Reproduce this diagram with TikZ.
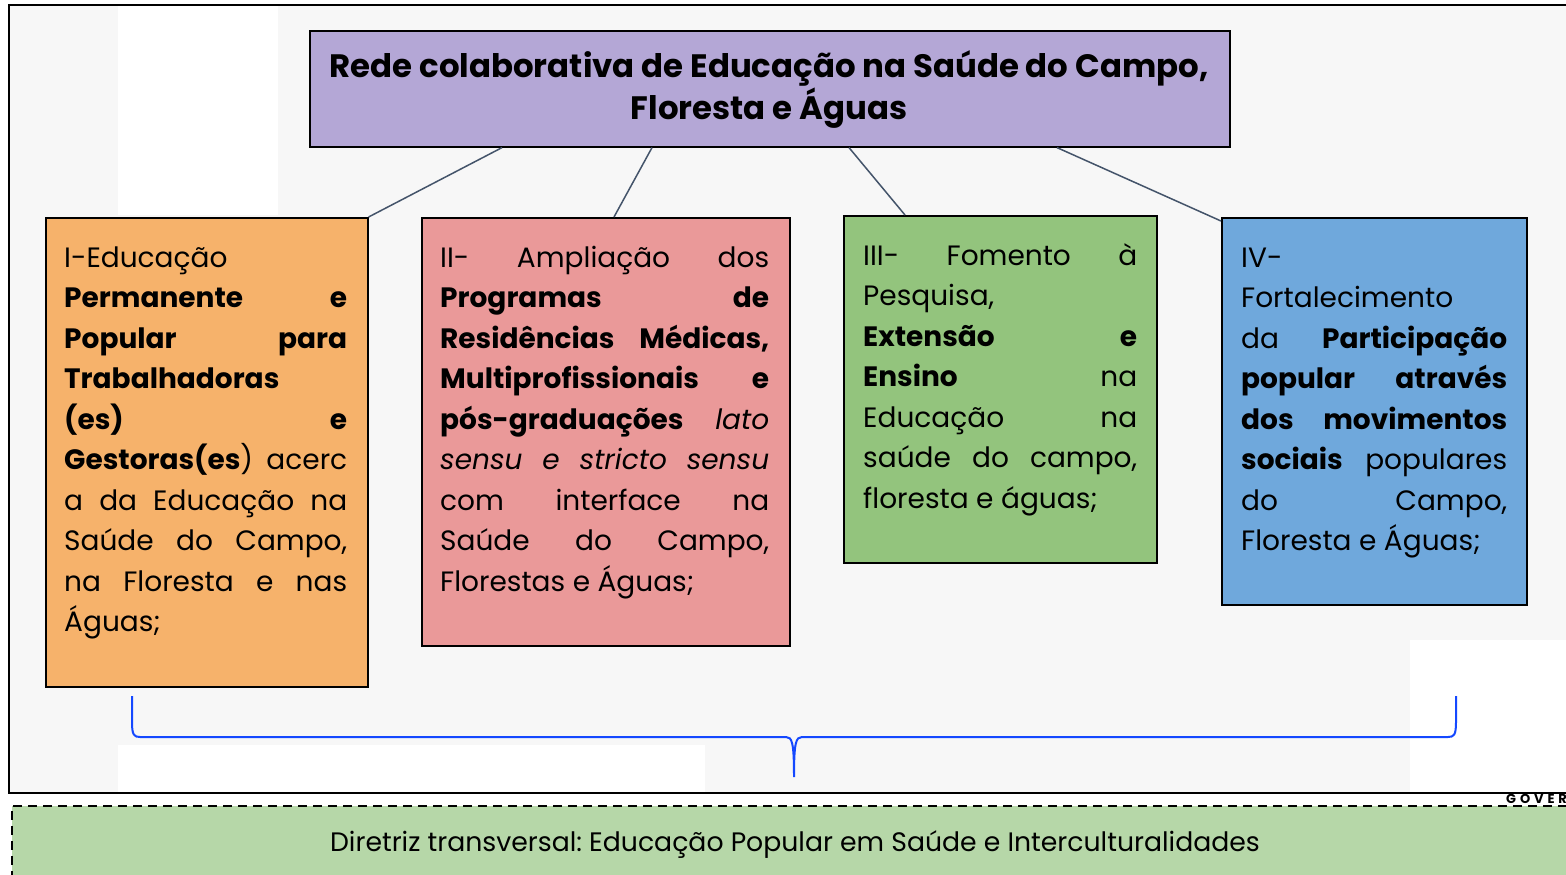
\documentclass[tikz,border=0pt]{standalone}
\usepackage{fontspec}
\setmainfont{Poppins}
\frenchspacing
\definecolor{bgg}{HTML}{F7F7F7}
\definecolor{titlec}{HTML}{B4A7D6}
\definecolor{orangec}{HTML}{F6B26B}
\definecolor{redc}{HTML}{EA9999}
\definecolor{greenc}{HTML}{93C47D}
\definecolor{bluec}{HTML}{6FA8DC}
\definecolor{bottomc}{HTML}{B6D7A8}
\definecolor{linkc}{HTML}{44546A}
\definecolor{bracec}{HTML}{1448FF}
\newlength\boxlw
\newcommand\jline[1]{\makebox[\boxlw][s]{#1}}
\newcommand\lline[1]{\makebox[\boxlw][l]{#1}}
\tikzset{
  card/.style={draw=black, line width=1.6pt, anchor=north west, inner sep=0pt},
  bodytext/.style={anchor=base west, inner sep=0pt, font=\fontsize{28pt}{40.5pt}\selectfont},
  link/.style={draw=linkc, line width=1.5pt},
}
\begin{document}
\begin{tikzpicture}[x=1pt,y=-1pt]
\useasboundingbox (0,0) rectangle (1566,875);
\fill[white] (0,0) rectangle (1566,875);
% frame background
\fill[bgg] (9,5) rectangle (1570,793);
\fill[white] (118,5) rectangle (278,215);
\fill[white] (118,745) rectangle (705,793);
\fill[white] (1410,640) rectangle (1570,793);
\draw[black, line width=1.8pt] (1570,5) -- (9,5) -- (9,793) -- (1570,793);
% title
\node[card, fill=titlec, minimum width=920pt, minimum height=116pt] (t) at (309,30) {};
\node[anchor=base, inner sep=0pt, align=center, font=\bfseries\fontsize{32.4pt}{39pt}\selectfont] (tt) at (769,119) {Rede colaborativa de Educação na Saúde do Campo,\\Floresta e Águas};
% boxes
\node[card, fill=orangec, minimum width=322pt, minimum height=469pt] (b1) at (45,217) {};
\node[card, fill=redc, minimum width=368pt, minimum height=428pt] (b2) at (421,217) {};
\node[card, fill=greenc, minimum width=313pt, minimum height=347pt] (b3) at (843,215) {};
\node[card, fill=bluec, minimum width=305pt, minimum height=387pt] (b4) at (1221,217) {};
% connectors
\draw[link] ([xshift=193pt]t.south west) -- (b1.north east);
\draw[link] ([xshift=343pt]t.south west) -- ([xshift=193pt]b2.north west);
\draw[link] ([xshift=540pt]t.south west) -- ([xshift=62pt]b3.north west);
\draw[link] ([xshift=748pt]t.south west) -- ([yshift=-4pt]b4.north west);
% texts
\setlength\boxlw{283pt}
\node[bodytext] (x1) at (64,267) {\parbox[t]{283pt}{%
\lline{I-Educação}\\
\jline{\textbf{Permanente e}}\\
\jline{\textbf{Popular para}}\\
\lline{\textbf{Trabalhadoras}}\\
\jline{\textbf{(es) e}}\\
\jline{\textbf{Gestoras(es}) acerc}\\
\jline{a da Educação na}\\
\jline{Saúde do Campo,}\\
\jline{na Floresta e nas}\\
\lline{Águas;}}};
\setlength\boxlw{329pt}
\node[bodytext] (x2) at (440,267) {\parbox[t]{329pt}{%
\jline{II- Ampliação dos}\\
\jline{\textbf{Programas de}}\\
\jline{\textbf{Residências Médicas,}}\\
\jline{\textbf{Multiprofissionais e}}\\
\jline{\textbf{pós-graduações} \textit{lato}}\\
\jline{\textit{sensu e stricto sensu}}\\
\jline{com interface na}\\
\jline{Saúde do Campo,}\\
\lline{Florestas e Águas;}}};
\setlength\boxlw{274pt}
\node[bodytext] (x3) at (863,265) {\parbox[t]{274pt}{%
\jline{III- Fomento à}\\
\lline{Pesquisa,}\\
\jline{\textbf{Extensão e}}\\
\jline{\textbf{Ensino} na}\\
\jline{Educação na}\\
\jline{saúde do campo,}\\
\lline{floresta e águas;}}};
\setlength\boxlw{266pt}
\node[bodytext] (x4) at (1241,267) {\parbox[t]{266pt}{%
\lline{IV-}\\
\lline{Fortalecimento}\\
\jline{da \textbf{Participação}}\\
\jline{\textbf{popular através}}\\
\jline{\textbf{dos movimentos}}\\
\jline{\textbf{sociais} populares}\\
\jline{do Campo,}\\
\lline{Floresta e Águas;}}};
% brace
\coordinate (bl) at (132,696);
\coordinate (br) at (1456,696);
\coordinate (tip) at (794,777);
\draw[bracec, line width=2pt] (bl) -- (132,722) .. controls (132,735) and (134,737) .. (140,737)
  -- (786,737) .. controls (792,737) and (794,742) .. (tip)
  .. controls (794,742) and (796,737) .. (802,737)
  -- (1448,737) .. controls (1454,737) and (1456,735) .. (1456,722) -- (br);
% bottom dashed band
\fill[bottomc] (12,806) rectangle (1570,880);
\draw[black, line width=1.8pt, dash pattern=on 9pt off 6pt] (12,880) -- (12,806) -- (1570,806);
\node[anchor=base, inner sep=0pt, font=\fontsize{26.7pt}{30pt}\selectfont] (dt) at (795,851) {Diretriz transversal: Educação Popular em Saúde e Interculturalidades};
\node[anchor=base west, inner sep=0pt, font=\bfseries\fontsize{13pt}{15pt}\selectfont\addfontfeature{LetterSpace=30}] (gov) at (1506,803) {GOVER};
\end{tikzpicture}
\end{document}
